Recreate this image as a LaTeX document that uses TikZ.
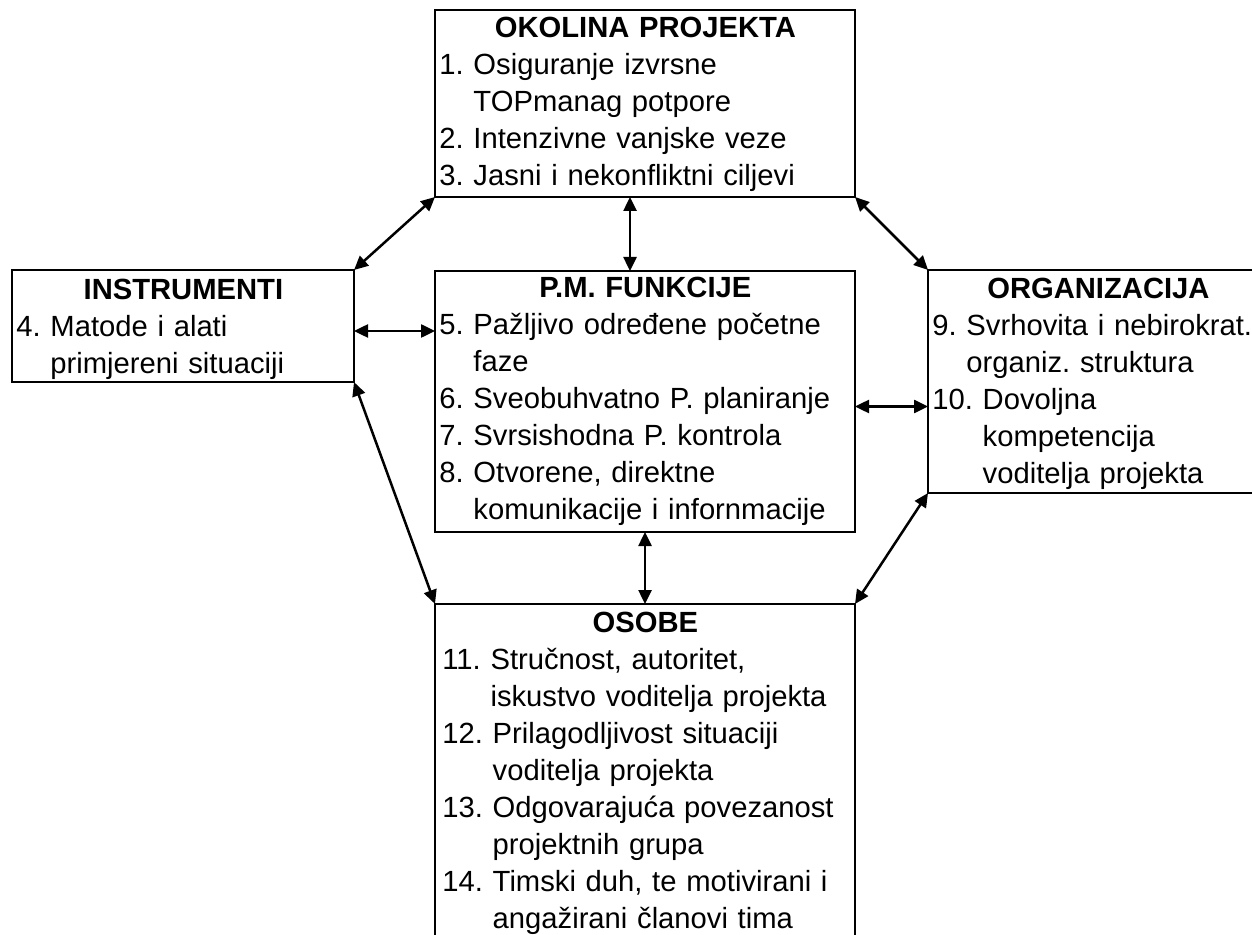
\documentclass[tikz,border=0pt]{standalone}
\usepackage{fontspec}
\setmainfont{Liberation Sans}
\usetikzlibrary{calc,arrows.meta}

\newlength{\brojsirina}
\newcommand{\stavka}[2]{\par\settowidth{\brojsirina}{#1\ }\hangindent=\brojsirina\hangafter=1\noindent#1\ #2}
\newcommand{\naslov}[1]{{\centering\bfseries #1\par}}
\frenchspacing

\begin{document}
\begin{tikzpicture}[x=0.5pt,y=-0.5pt]

% This determines how the boxes, texts and arrows will look.
\tikzstyle{okvir}=[draw,line width=1.4pt,outer sep=0pt,inner sep=0pt,anchor=north west]
\tikzstyle{tekst}=[anchor=north west,inner sep=0pt,align=left,font=\fontsize{14.6pt}{18.5pt}\selectfont]
\tikzstyle{veza}=[{Triangle[length=7pt,width=6.5pt]}-{Triangle[length=7pt,width=6.5pt]},line width=1.25pt]

\useasboundingbox (0,0) rectangle (1252,935);

% This draws the boxes.
\node[okvir,minimum width=210pt,minimum height=93.5pt] (okolina) at (435,10) {};
\node[okvir,minimum width=171pt,minimum height=56pt] (instrumenti) at (12,270) {};
\node[okvir,minimum width=210pt,minimum height=130.5pt] (funkcije) at (435,271) {};
\node[okvir,minimum width=170pt,minimum height=111.5pt] (organizacija) at (928,270) {};
\node[okvir,minimum width=210pt,minimum height=172.5pt] (osobe) at (435,604) {};

% This draws the texts in the boxes.
\node[tekst,text width=206pt] (okolinatekst) at ($(okolina.north west)+(4,7)$) {\naslov{OKOLINA PROJEKTA}
\stavka{1.}{Osiguranje izvrsne\newline TOPmanag potpore}
\stavka{2.}{Intenzivne vanjske veze}
\stavka{3.}{Jasni i nekonfliktni ciljevi}\par};

\node[tekst,text width=167pt] (instrumentitekst) at ($(instrumenti.north west)+(4,9)$) {\naslov{INSTRUMENTI}
\stavka{4.}{Matode i alati\newline primjereni situaciji}\par};

\node[tekst,text width=206pt] (funkcijetekst) at ($(funkcije.north west)+(4,6)$) {\naslov{P.M. FUNKCIJE}
\stavka{5.}{Pažljivo određene početne\newline faze}
\stavka{6.}{Sveobuhvatno P. planiranje}
\stavka{7.}{Svrsishodna P. kontrola}
\stavka{8.}{Otvorene, direktne\newline komunikacije i infornmacije}\par};

\node[tekst,text width=166pt] (organizacijatekst) at ($(organizacija.north west)+(4,8)$) {\naslov{ORGANIZACIJA}
\stavka{9.}{Svrhovita i nebirokrat.\newline organiz. struktura}
\stavka{10.}{Dovoljna\newline kompetencija\newline voditelja projekta}\par};

\node[tekst,text width=203pt] (osobetekst) at ($(osobe.north west)+(7,8)$) {\naslov{OSOBE}
\stavka{11.}{Stručnost, autoritet,\newline iskustvo voditelja projekta}
\stavka{12.}{Prilagodljivost situaciji\newline voditelja projekta}
\stavka{13.}{Odgovarajuća povezanost\newline projektnih grupa}
\stavka{14.}{Timski duh, te motivirani i\newline angažirani članovi tima}\par};

% This draws the arrows between the boxes.
\draw[veza] (okolina.south west) -- (instrumenti.north east);
\draw[veza] ($(okolina.south)+(-15,0)$) -- ($(funkcije.north)+(-15,0)$);
\draw[veza] (okolina.south east) -- (organizacija.north west);
\draw[veza] ($(instrumenti.east)+(0,5)$) -- ($(instrumenti.east -| funkcije.west)+(0,5)$);
\draw[veza] ($(funkcije.east)+(0,5)$) -- ($(funkcije.east -| organizacija.west)+(0,5)$);
\draw[veza] (instrumenti.south east) -- (osobe.north west);
\draw[veza] (funkcije.south) -- (osobe.north);
\draw[veza] (organizacija.south west) -- (osobe.north east);

\end{tikzpicture}
\end{document}
